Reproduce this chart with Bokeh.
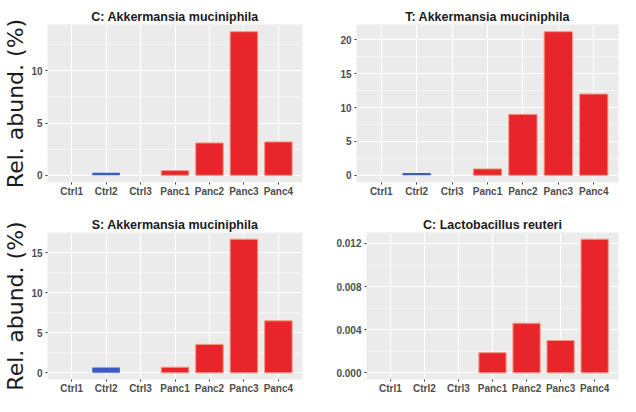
from bokeh.plotting import figure
from bokeh.models import FactorRange, Range1d, SingleIntervalTicker, PrintfTickFormatter, ColumnDataSource
from bokeh.layouts import row, column
from bokeh.embed import file_html
from bokeh.resources import INLINE

# ---- data ----
samples = ["Ctrl1", "Ctrl2", "Ctrl3", "Panc1", "Panc2", "Panc3", "Panc4"]
groups = ["Ctrl", "Ctrl", "Ctrl", "Panc", "Panc", "Panc", "Panc"]

title_c_akk = "C: Akkermansia muciniphila"
title_t_akk = "T: Akkermansia muciniphila"
title_s_akk = "S: Akkermansia muciniphila"
title_c_lac = "C: Lactobacillus reuteri"

c_akk = [0, 0.25, 0, 0.45, 3.1, 13.75, 3.2]
t_akk = [0, 0.35, 0, 0.95, 9.0, 21.2, 12.0]
s_akk = [0, 0.65, 0, 0.7, 3.55, 16.7, 6.5]
c_lac = [0, 0, 0, 0.00187, 0.0046, 0.0030, 0.0124]

tick_interval_c_akk = 5
tick_interval_t_akk = 5
tick_interval_s_akk = 5
tick_interval_c_lac = 0.004

ylabel = "Rel. abund. (%)"

# ---- styles ----
fill_map = {"Ctrl": "#3a5bc7", "Panc": "#e8252b"}
line_map = {"Ctrl": None, "Panc": "#f49a80"}
PANEL_BG = "#ebebeb"
TICK_COLOR = "#4d4d4d"


def make_panel(title, values, interval, width, height, mb_left, mb_right, mb_top, mb_bottom,
               with_label=False, fmt=None):
    vmax = max(values)
    p = figure(x_range=FactorRange(*samples, range_padding=0.2, range_padding_units="absolute"),
               y_range=Range1d(-0.05 * vmax, 1.05 * vmax),
               width=width, height=height, output_backend="svg", toolbar_location=None,
               min_border_left=mb_left, min_border_right=mb_right,
               min_border_top=mb_top, min_border_bottom=mb_bottom)
    src = ColumnDataSource(dict(
        x=samples, top=values,
        fill=[fill_map[g] for g in groups],
        line=[line_map[g] for g in groups],
    ))
    p.vbar(x="x", top="top", bottom=0, width=0.8, source=src,
           fill_color="fill", line_color="line", line_width=1)

    p.background_fill_color = PANEL_BG
    p.border_fill_color = "white"
    p.outline_line_color = None

    p.title.text = title
    p.title.align = "center"
    p.title.text_font = "Liberation Sans"
    p.title.text_font_size = "12.5px"
    p.title.text_font_style = "bold"
    p.title.text_color = "#1a1a1a"
    p.title.standoff = 1

    ticker = SingleIntervalTicker(interval=interval, num_minor_ticks=2)
    p.yaxis.ticker = ticker
    p.ygrid.ticker = ticker
    if fmt:
        p.yaxis.formatter = PrintfTickFormatter(format=fmt)

    for ax in (p.xaxis, p.yaxis):
        ax.axis_line_color = None
        ax.major_tick_line_color = "#333333"
        ax.major_tick_in = 0
        ax.major_tick_out = 2
        ax.minor_tick_line_color = None
        ax.major_label_text_font = "Liberation Sans"
        ax.major_label_text_font_size = "10px"
        ax.major_label_text_font_style = "bold"
        ax.major_label_text_color = TICK_COLOR
        ax.major_label_standoff = 1

    p.xgrid.grid_line_color = "white"
    p.xgrid.grid_line_width = 1
    p.ygrid.grid_line_color = "white"
    p.ygrid.grid_line_width = 1
    p.ygrid.minor_grid_line_color = "white"
    p.ygrid.minor_grid_line_width = 0.5

    if with_label:
        p.yaxis.axis_label = ylabel
        p.yaxis.axis_label_text_font = "DejaVu Sans"
        p.yaxis.axis_label_text_font_size = "22px"
        p.yaxis.axis_label_text_font_style = "normal"
        p.yaxis.axis_label_text_color = "#1a1a1a"
        p.yaxis.axis_label_standoff = 0
    return p


p1 = make_panel(title_c_akk, c_akk, tick_interval_c_akk, 310, 204, 36, 8, 24, 22, with_label=True)
p2 = make_panel(title_t_akk, t_akk, tick_interval_t_akk, 310, 204, 46, 2, 24, 22)
p3 = make_panel(title_s_akk, s_akk, tick_interval_s_akk, 310, 192, 36, 8, 28, 14, with_label=True)
p4 = make_panel(title_c_lac, c_lac, tick_interval_c_lac, 310, 192, 56, 2, 28, 14, fmt="%.3f")

layout = column(row(p1, p2), row(p3, p4))

open("out.html", "w").write(file_html(layout, INLINE))
